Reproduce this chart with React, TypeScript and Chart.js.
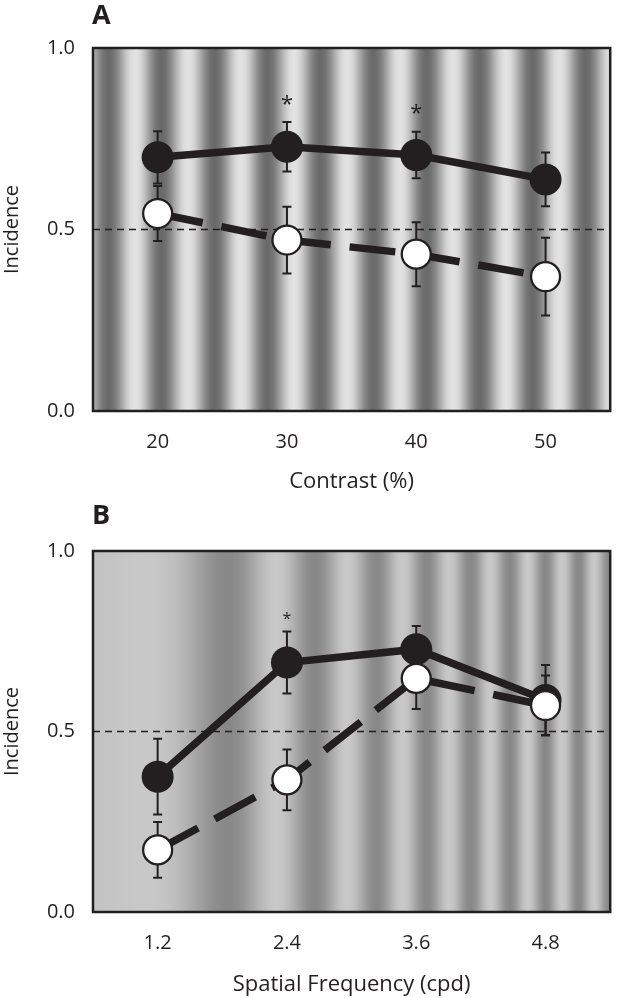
import { useEffect, useRef } from 'react';
import { Chart, registerables } from 'chart.js';

Chart.register(...registerables);

// ---------- data ----------
const contrastLabels = ['20', '30', '40', '50'];
const contrastFilled = [0.699, 0.728, 0.705, 0.638];
const contrastFilledErr = [0.072, 0.068, 0.064, 0.074];
const contrastOpen = [0.544, 0.471, 0.432, 0.37];
const contrastOpenErr = [0.076, 0.092, 0.088, 0.107];
const contrastSig = [null, 0.862, 0.837, null];

const sfLabels = ['1.2', '2.4', '3.6', '4.8'];
const sfFilled = [0.375, 0.691, 0.728, 0.587];
const sfFilledErr = [0.105, 0.086, 0.064, 0.097];
const sfOpen = [0.172, 0.366, 0.647, 0.572];
const sfOpenErr = [0.077, 0.084, 0.085, 0.083];
const sfSig = [null, 0.825, null, null];

const yTickValues = [0, 0.5, 1.0];
const chanceLevel = 0.5;

// ---------- style ----------
const INK = '#231f20';
const FONT = "'Open Sans', sans-serif";

const gratingA = (x: number) => 166 + 60 * Math.cos((2 * Math.PI * (x - 135)) / 53);
const gratingB = (x: number) => {
  const phi = ((x - 93) * (x - 93)) / 31100;
  return 168 - 32 * Math.cos(2 * Math.PI * (phi - 0.58));
};

const gratingPlugin = {
  id: 'grating',
  beforeDraw(chart: any, _args: any, opts: any) {
    const { ctx, chartArea } = chart;
    if (!opts || !opts.fn) return;
    const { left, right, top, bottom } = chartArea;
    ctx.save();
    for (let x = Math.floor(left); x < Math.ceil(right); x++) {
      const v = Math.round(opts.fn(x + 0.5));
      ctx.fillStyle = `rgb(${v},${v},${v})`;
      ctx.fillRect(x, top, 1, bottom - top);
    }
    ctx.restore();
  },
};

const framePlugin = {
  id: 'frameAndBars',
  beforeDatasetsDraw(chart: any) {
    const { ctx, chartArea, scales } = chart;
    const { left, right, top, bottom } = chartArea;
    ctx.save();
    const yc = scales.y.getPixelForValue(chanceLevel);
    ctx.strokeStyle = INK;
    ctx.lineWidth = 1.6;
    ctx.setLineDash([7, 5]);
    ctx.beginPath();
    ctx.moveTo(left, yc);
    ctx.lineTo(right, yc);
    ctx.stroke();
    ctx.setLineDash([]);
    ctx.lineWidth = 2;
    chart.data.datasets.forEach((ds: any, i: number) => {
      const meta = chart.getDatasetMeta(i);
      if (!ds.errors) return;
      ds.data.forEach((v: number, j: number) => {
        const e = ds.errors[j];
        const x = meta.data[j].x;
        const y1 = scales.y.getPixelForValue(v + e);
        const y2 = scales.y.getPixelForValue(v - e);
        ctx.beginPath();
        ctx.moveTo(x, y1);
        ctx.lineTo(x, y2);
        ctx.moveTo(x - 4.5, y1);
        ctx.lineTo(x + 4.5, y1);
        ctx.moveTo(x - 4.5, y2);
        ctx.lineTo(x + 4.5, y2);
        ctx.stroke();
      });
    });
    ctx.lineWidth = 2.5;
    ctx.strokeRect(left, top, right - left, bottom - top);
    ctx.restore();
  },
  afterDatasetsDraw(chart: any, _args: any, opts: any) {
    const { ctx, scales } = chart;
    ctx.save();
    ctx.fillStyle = INK;
    if (opts.sig) {
      ctx.font = `${opts.sigSize}px ${FONT}`;
      ctx.textAlign = 'center';
      ctx.textBaseline = 'alphabetic';
      opts.sig.forEach((v: number | null, j: number) => {
        if (v == null) return;
        const x = scales.x.getPixelForValue(j);
        const y = scales.y.getPixelForValue(v);
        ctx.fillText('*', x, y + opts.sigSize * 0.6);
      });
    }
    if (opts.letter) {
      ctx.font = `bold 27px ${FONT}`;
      ctx.textAlign = 'left';
      ctx.textBaseline = 'alphabetic';
      ctx.fillText(opts.letter, 92, 24);
    }
    ctx.restore();
  },
};

function makeConfig(p: {
  labels: string[];
  filled: number[];
  filledErr: number[];
  open: number[];
  openErr: number[];
  sig: (number | null)[];
  sigSize: number;
  xTitle: string;
  letter: string;
  padTop: number;
  xHeight: number;
  titlePadBottom: number;
  grating: (x: number) => number;
}) {
  const font = { family: FONT, size: 20 };
  const titleFont = { family: FONT, size: 22 };
  return {
    type: 'line' as const,
    data: {
      labels: p.labels,
      datasets: [
        {
          label: 'open',
          data: p.open,
          errors: p.openErr,
          order: 1,
          borderColor: INK,
          borderWidth: 7.5,
          borderDash: [46, 19],
          borderCapStyle: 'butt',
          pointRadius: 14.5,
          pointBorderWidth: 2.3,
          pointBackgroundColor: '#ffffff',
          pointBorderColor: INK,
          tension: 0,
        },
        {
          label: 'filled',
          data: p.filled,
          errors: p.filledErr,
          order: 2,
          borderColor: INK,
          borderWidth: 7.5,
          pointRadius: 16,
          pointBorderWidth: 0,
          pointBackgroundColor: INK,
          pointBorderColor: INK,
          tension: 0,
        },
      ],
    },
    options: {
      animation: false,
      responsive: false,
      events: [],
      layout: { padding: { top: p.padTop, right: 3, bottom: 0, left: 0 } },
      plugins: {
        legend: { display: false },
        tooltip: { enabled: false },
        grating: { fn: p.grating },
        frameAndBars: { sig: p.sig, sigSize: p.sigSize, letter: p.letter },
      },
      scales: {
        x: {
          type: 'category',
          offset: true,
          grid: { display: false, drawTicks: false },
          border: { display: false },
          ticks: { font, color: INK, padding: 19, maxRotation: 0, autoSkip: false },
          title: {
            display: true,
            text: p.xTitle,
            font: titleFont,
            color: INK,
            padding: { top: 0, bottom: p.titlePadBottom },
          },
          afterFit: (s: any) => {
            s.height = p.xHeight;
          },
        },
        y: {
          min: 0,
          max: 1,
          grid: { display: false, drawTicks: false },
          border: { display: false },
          afterBuildTicks: (s: any) => {
            s.ticks = yTickValues.map((v) => ({ value: v }));
          },
          ticks: {
            font,
            color: INK,
            padding: 18,
            callback: (v: any) => Number(v).toFixed(1),
          },
          title: {
            display: true,
            text: 'Incidence',
            font,
            color: INK,
            padding: { top: 0, bottom: 0 },
          },
          afterFit: (s: any) => {
            s.width = 93;
          },
        },
      },
    },
    plugins: [gratingPlugin, framePlugin],
  };
}

function Panel(props: { config: any; top: number; height: number }) {
  const ref = useRef<HTMLCanvasElement>(null);
  useEffect(() => {
    if (!ref.current) return;
    const chart = new Chart(ref.current, props.config);
    return () => chart.destroy();
  }, []);
  return (
    <canvas
      ref={ref}
      width={627}
      height={props.height}
      style={{ position: 'absolute', left: 0, top: props.top, width: 627, height: props.height, display: 'block' }}
    />
  );
}

export default function App() {
  const cfgA = makeConfig({
    labels: contrastLabels,
    filled: contrastFilled,
    filledErr: contrastFilledErr,
    open: contrastOpen,
    openErr: contrastOpenErr,
    sig: contrastSig,
    sigSize: 22,
    xTitle: 'Contrast (%)',
    letter: 'A',
    padTop: 48,
    xHeight: 89,
    titlePadBottom: 5,
    grating: gratingA,
  });
  const cfgB = makeConfig({
    labels: sfLabels,
    filled: sfFilled,
    filledErr: sfFilledErr,
    open: sfOpen,
    openErr: sfOpenErr,
    sig: sfSig,
    sigSize: 16,
    xTitle: 'Spatial Frequency (cpd)',
    letter: 'B',
    padTop: 51,
    xHeight: 86,
    titlePadBottom: 0,
    grating: gratingB,
  });
  return (
    <div style={{ position: 'absolute', left: 0, top: 0, width: 627, height: 998, background: '#ffffff' }}>
      <Panel config={cfgA} top={0} height={500} />
      <Panel config={cfgB} top={500} height={498} />
    </div>
  );
}
